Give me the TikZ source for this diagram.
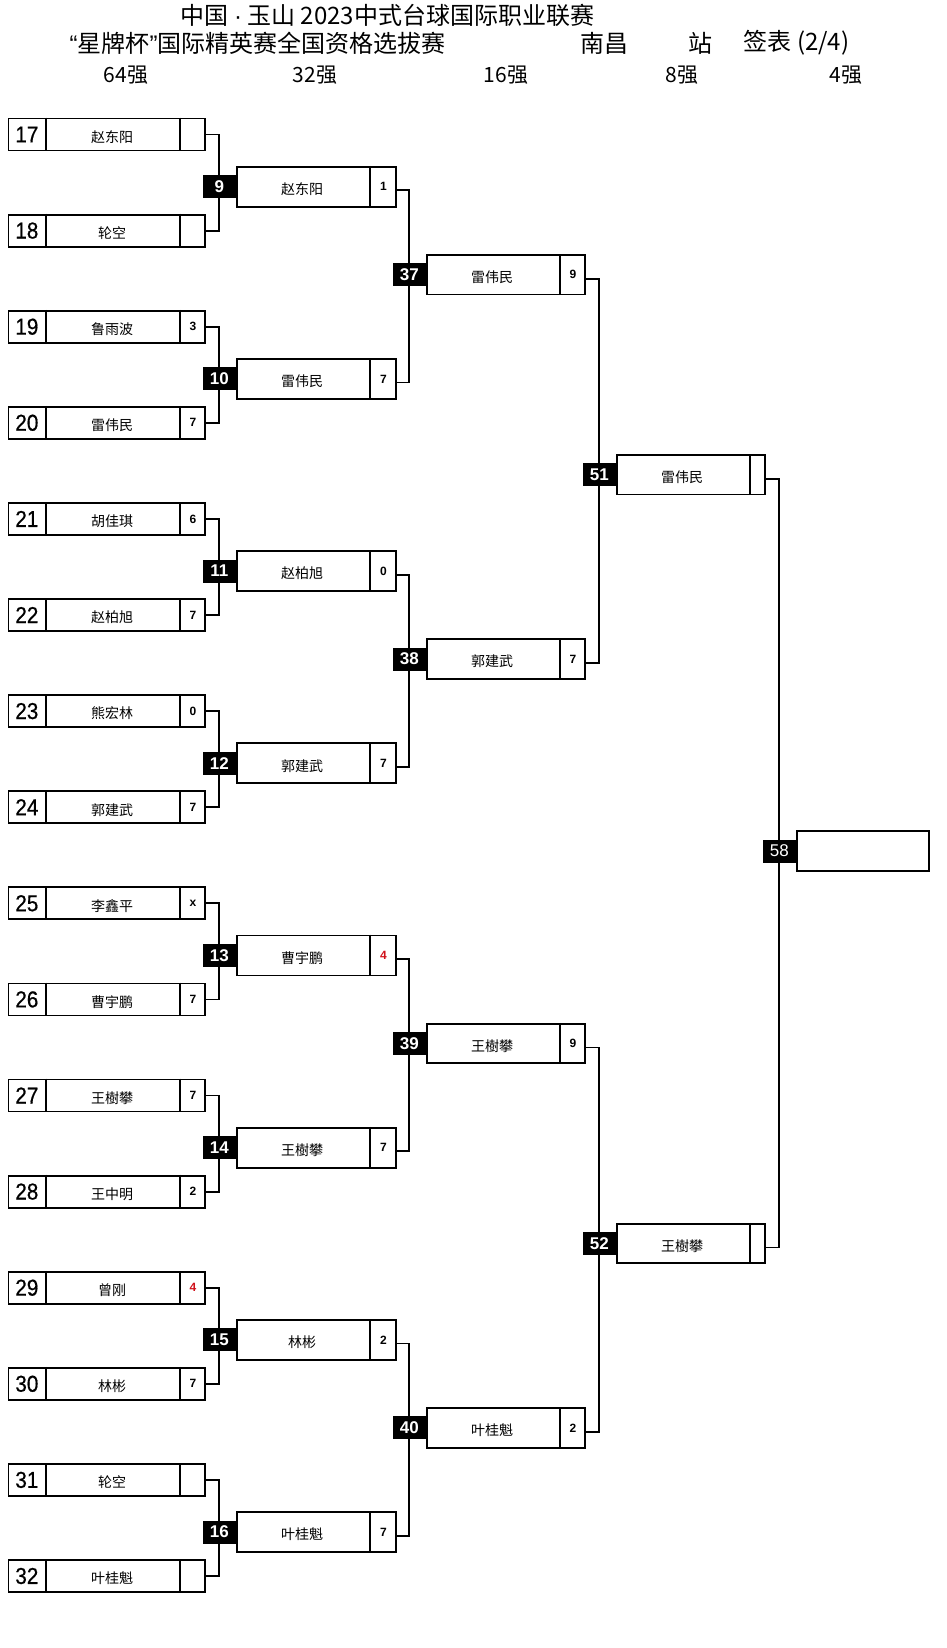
\documentclass[tikz,border=0pt]{standalone}
\usepackage{fontspec}
\setmainfont{Liberation Sans}
\newfontfamily\cjk{Noto Sans CJK SC}
\newfontfamily\chiffres[FakeStretch=0.9, FakeBold=0.6]{Liberation Sans}
\definecolor{rouge}{HTML}{D0101A}
\usetikzlibrary{positioning, calc}

\begin{document}
\begin{tikzpicture}[
  x=1pt, y=-1pt,
  titre/.style={
    font=\cjk\fontsize{24}{24}\selectfont,
    inner sep=0pt
  },
  tour/.style={
    font=\cjk\fontsize{21}{21}\selectfont,
    inner sep=0pt
  },
  boite/.style={
    draw=black,
    fill=white,
    line width=1.8pt,
    inner sep=0pt
  },
  case1/.style={boite, minimum width=196.5pt, minimum height=32pt},
  case2/.style={boite, minimum width=159pt, minimum height=40pt},
  case3/.style={boite, minimum width=158.3pt, minimum height=39.5pt},
  case4/.style={boite, minimum width=148.3pt, minimum height=39.5pt},
  case5/.style={boite, minimum width=132.6pt, minimum height=40pt},
  trait/.style={
    line width=1.8pt,
    draw=black
  },
  numero/.style={
    font=\chiffres\fontsize{23}{23}\selectfont,
    inner sep=0pt
  },
  nom/.style={
    font=\cjk\fontsize{14}{14}\selectfont,
    inner sep=0pt,
    yshift=-2.5pt
  },
  score/.style={
    font=\bfseries\fontsize{12}{12}\selectfont,
    inner sep=0pt
  },
  badge/.style={
    fill=black,
    text=white,
    font=\bfseries\fontsize{17}{17}\selectfont,
    minimum width=32.7pt,
    minimum height=23pt,
    inner sep=0pt
  },
  lien/.style={
    line width=1.8pt,
    draw=black,
    line cap=rect
  }
]
\useasboundingbox (0,0) rectangle (946,1648);

% En-tetes
\node[titre] (t1) at (387.5, 15) {中国 {\rmfamily ·} 玉山 2023中式台球国际职业联赛};
\node[titre] (t2) at (257.5, 43) {{\rmfamily “}星牌杯{\rmfamily ”}国际精英赛全国资格选拔赛};
\node[titre] (t3) at (604, 43) {南昌};
\node[titre] (t4) at (700, 43) {站};
\node[titre] (t5) at (796.5, 43) {签表 (2/4)};
\node[tour] (r1) at (126, 75) {64强};
\node[tour] (r2) at (315, 75) {32强};
\node[tour] (r3) at (506, 75) {16强};
\node[tour] (r4) at (682, 75) {8强};
\node[tour] (r5) at (846, 75) {4强};

% Premier tour : 64 -> 32
\foreach \n/\nom/\sc [count=\k from 0] in {
  17/赵东阳/{}, 18/轮空/{}, 19/鲁雨波/3, 20/雷伟民/7,
  21/胡佳琪/6, 22/赵柏旭/7, 23/熊宏林/0, 24/郭建武/7,
  25/李鑫平/x, 26/曹宇鹏/7, 27/王樹攀/7, 28/王中明/2,
  29/曾刚/\textcolor{rouge}{4}, 30/林彬/7, 31/轮空/{}, 32/叶桂魁/{}} {
  \node[case1] (j\n) at (106.75, 134.5+96.1*\k) {};
  \draw[trait] ([xshift=38.5pt]j\n.north west) -- ([xshift=38.5pt]j\n.south west);
  \draw[trait] ([xshift=-26pt]j\n.north east) -- ([xshift=-26pt]j\n.south east);
  \node[numero] at ([xshift=19.25pt]j\n.west) {\n};
  \node[nom] at ([xshift=104.5pt]j\n.west) {\nom};
  \node[score] at ([xshift=-13pt]j\n.east) {\sc};
}

% Deuxieme tour
\foreach \n/\nom/\sc [count=\k from 0] in {
  9/赵东阳/1, 10/雷伟民/7, 11/赵柏旭/0, 12/郭建武/7,
  13/曹宇鹏/\textcolor{rouge}{4}, 14/王樹攀/7, 15/林彬/2, 16/叶桂魁/7} {
  \node[case2] (b\n) at (316.2, 186.7+192.2*\k) {};
  \node[badge, anchor=east] (m\n) at (b\n.west) {\n};
  \draw[trait] ([xshift=-26.4pt]b\n.north east) -- ([xshift=-26.4pt]b\n.south east);
  \node[nom] at ([xshift=66.3pt]b\n.west) {\nom};
  \node[score] at ([xshift=-13.2pt]b\n.east) {\sc};
  \pgfmathtruncatemacro\ja{17+2*\k}
  \pgfmathtruncatemacro\jb{18+2*\k}
  \draw[lien] (j\ja.east) -| (m\n.north);
  \draw[lien] (j\jb.east) -| (m\n.south);
}

% Huitiemes
\foreach \n/\nom/\sc [count=\k from 0] in {
  37/雷伟民/9, 38/郭建武/7, 39/王樹攀/9, 40/叶桂魁/2} {
  \node[case3] (c\n) at (505.85, 274.7+384.4*\k) {};
  \node[badge, anchor=east] (m\n) at (c\n.west) {\n};
  \draw[trait] ([xshift=-26pt]c\n.north east) -- ([xshift=-26pt]c\n.south east);
  \node[nom] at ([xshift=66.2pt]c\n.west) {\nom};
  \node[score] at ([xshift=-13pt]c\n.east) {\sc};
  \pgfmathtruncatemacro\ja{9+2*\k}
  \pgfmathtruncatemacro\jb{10+2*\k}
  \draw[lien] ([yshift=-3.5pt]b\ja.east) -| (m\n.north);
  \draw[lien] ([yshift=-3.5pt]b\jb.east) -| (m\n.south);
}

% Quarts
\foreach \n/\nom [count=\k from 0] in {51/雷伟民, 52/王樹攀} {
  \node[case4] (d\n) at (690.85, 474.7+768.8*\k) {};
  \node[badge, anchor=east] (m\n) at (d\n.west) {\n};
  \draw[trait] ([xshift=-16pt]d\n.north east) -- ([xshift=-16pt]d\n.south east);
  \node[nom] at ([xshift=66.2pt]d\n.west) {\nom};
  \pgfmathtruncatemacro\ja{37+2*\k}
  \pgfmathtruncatemacro\jb{38+2*\k}
  \draw[lien] ([yshift=-4pt]c\ja.east) -| (m\n.north);
  \draw[lien] ([yshift=-4pt]c\jb.east) -| (m\n.south);
}

% Demi-finale
\node[case5] (e58) at (863, 851) {};
\node[badge, anchor=east, font=\fontsize{17}{17}\selectfont] (m58) at (e58.west) {58};
\draw[lien] ([yshift=-4pt]d51.east) -| (m58.north);
\draw[lien] ([yshift=-4pt]d52.east) -| (m58.south);

\end{tikzpicture}
\end{document}
